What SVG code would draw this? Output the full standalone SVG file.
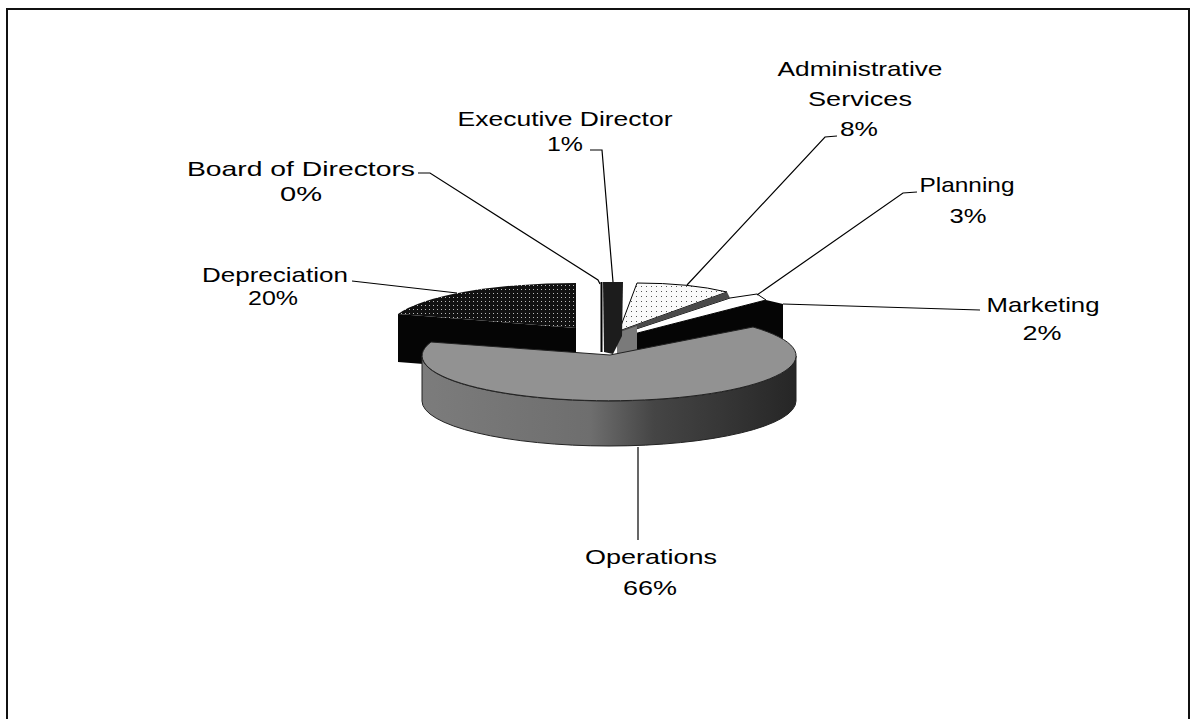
<svg xmlns="http://www.w3.org/2000/svg" width="1191" height="719" viewBox="0 0 1191 719">
<style>
.lbl text{font-family:"Liberation Sans",Arial,sans-serif;font-size:21px;fill:#000;text-anchor:middle;}
.lead{fill:none;stroke:#000;stroke-width:1.2;}
</style>
<defs>
<pattern id="dots" width="5" height="5" patternUnits="userSpaceOnUse"><rect width="5" height="5" fill="#fafafa"/><rect x="1" y="1" width="1" height="1" fill="#555"/></pattern>
<pattern id="darkdots" width="4" height="4" patternUnits="userSpaceOnUse"><rect width="4" height="4" fill="#111"/><rect x="1" y="1" width="1" height="1" fill="#bbb"/></pattern>
<linearGradient id="opSide" gradientUnits="userSpaceOnUse" x1="422" y1="0" x2="796" y2="0">
<stop offset="0" stop-color="#7c7c7c"/><stop offset="0.45" stop-color="#6e6e6e"/><stop offset="0.62" stop-color="#454545"/><stop offset="1" stop-color="#262626"/>
</linearGradient>
</defs>
<rect width="1191" height="719" fill="#fff"/>
<rect id="frame" x="7" y="9" width="1182" height="730" fill="none" stroke="#111" stroke-width="2"/>

<g id="slice-depreciation">
<path d="M576,328 L398,314 L398,362 L576,376 Z" fill="#050505"/>
<path d="M576,328 L398,314 A187,45 0 0,1 576,283 Z" fill="url(#darkdots)"/>
</g>
<g id="slice-marketing">
<path d="M622,337 L766,300 L783,304 L783,362 L622,362 Z" fill="#050505"/>
</g>
<g id="slice-planning">
<path d="M621,334 L730,298 L757,294 L766,300 L622,337 Z" fill="#fff" stroke="#000" stroke-width="1"/>
</g>
<g id="slice-administrative">
<path d="M619,331 L637,283 Q690,283 727,292 Z" fill="url(#dots)" stroke="#000" stroke-width="1"/>
<path d="M619,331 L727,292 L730,298 L621,334 Z" fill="#4a4a4a"/>
</g>
<path d="M617,333 L637,326 L637,353 L617,355 Z" fill="#7a7a7a"/>
<g id="slice-executive">
<path d="M603,282 L623,282 L622,336 L613,354 L604,352 Z" fill="#1c1c1c"/>
<line x1="601.5" y1="282" x2="601.5" y2="352" stroke="#000" stroke-width="2"/>
</g>
<g id="slice-board"></g>
<g id="slice-operations">
<path d="M422,356 A187,45 0 0,0 796,356 L796,401 A187,45 0 0,1 422,401 Z" fill="url(#opSide)" stroke="#222" stroke-width="1"/>
<path d="M610,355 L431,342 A187,45 0 1,0 753,327 Z" fill="#929292" stroke="#222" stroke-width="1"/>
</g>

<g id="connectors">
<polyline class="lead" points="590,150 602,150 613,282"/>
<polyline class="lead" points="418,173 430,173 598,280 600,284"/>
<polyline class="lead" points="837,136 825,137 687,285"/>
<polyline class="lead" points="917,192 903,193 757,295"/>
<polyline class="lead" points="783,304 980,310"/>
<polyline class="lead" points="352,281 457,293"/>
<polyline class="lead" points="638,447 638,540"/>
</g>

<g id="label-executive" class="lbl"><text x="565" y="126" textLength="215" lengthAdjust="spacingAndGlyphs">Executive Director</text><text x="565" y="151" textLength="36" lengthAdjust="spacingAndGlyphs">1%</text></g>
<g id="label-board" class="lbl"><text x="301" y="176" textLength="228" lengthAdjust="spacingAndGlyphs">Board of Directors</text><text x="301" y="201" textLength="42" lengthAdjust="spacingAndGlyphs">0%</text></g>
<g id="label-administrative" class="lbl"><text x="860" y="76" textLength="165" lengthAdjust="spacingAndGlyphs">Administrative</text><text x="860" y="106" textLength="104" lengthAdjust="spacingAndGlyphs">Services</text><text x="859" y="136" textLength="38" lengthAdjust="spacingAndGlyphs">8%</text></g>
<g id="label-planning" class="lbl"><text x="967" y="192" textLength="95" lengthAdjust="spacingAndGlyphs">Planning</text><text x="968" y="223" textLength="37" lengthAdjust="spacingAndGlyphs">3%</text></g>
<g id="label-marketing" class="lbl"><text x="1043" y="312" textLength="113" lengthAdjust="spacingAndGlyphs">Marketing</text><text x="1042" y="340" textLength="39" lengthAdjust="spacingAndGlyphs">2%</text></g>
<g id="label-depreciation" class="lbl"><text x="275" y="282" textLength="146" lengthAdjust="spacingAndGlyphs">Depreciation</text><text x="273" y="305" textLength="50" lengthAdjust="spacingAndGlyphs">20%</text></g>
<g id="label-operations" class="lbl"><text x="651" y="564" textLength="132" lengthAdjust="spacingAndGlyphs">Operations</text><text x="650" y="595" textLength="54" lengthAdjust="spacingAndGlyphs">66%</text></g>
</svg>
